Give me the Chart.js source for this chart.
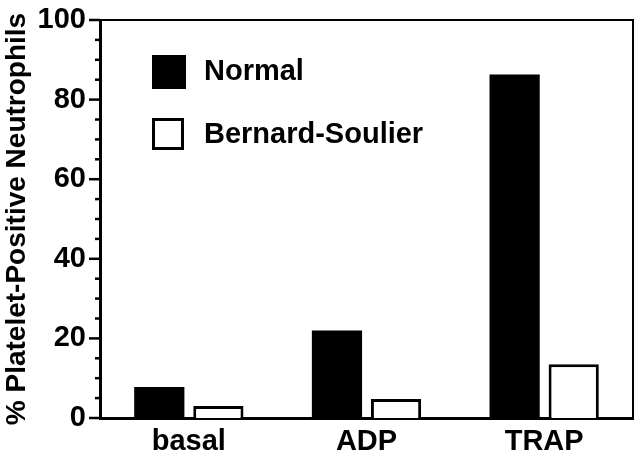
<!DOCTYPE html>
<html>
<head>
<meta charset="utf-8">
<script src="https://cdn.jsdelivr.net/npm/chart.js@4"></script>
<style>
  html, body { margin: 0; padding: 0; background: #fff; }
  #wrap { width: 640px; height: 461px; }
</style>
</head>
<body>
<div id="wrap"><canvas id="grafico" width="640" height="461"></canvas></div>
<script>
// dados
const categorias = ['basal', 'ADP', 'TRAP'];
const normal = [7.8, 22.0, 86.3];
const bernardSoulier = [3.0, 4.8, 13.5];
const yTicks = [0, 20, 40, 60, 80, 100];

const fonte = '"Liberation Sans", Arial, Helvetica, sans-serif';

// moldura (topo e direita), ticks menores e legenda dentro do gráfico
const extras = {
  id: 'extras',
  afterDraw(chart) {
    const ctx = chart.ctx;
    const a = chart.chartArea;
    const y = chart.scales.y;
    ctx.save();
    ctx.strokeStyle = '#000';
    ctx.lineWidth = 2;
    ctx.beginPath();
    ctx.moveTo(a.left, a.top);
    ctx.lineTo(a.right, a.top);
    ctx.lineTo(a.right, a.bottom);
    ctx.stroke();

    // ticks do eixo y: maiores a cada 20, menores a cada 5
    ctx.lineWidth = 2.5;
    for (let v = 0; v <= 100; v += 5) {
      const py = y.getPixelForValue(v);
      const len = v % 20 === 0 ? 11 : 5;
      ctx.beginPath();
      ctx.moveTo(a.left - len, py);
      ctx.lineTo(a.left, py);
      ctx.stroke();
    }

    // legenda
    const itens = chart.data.datasets;
    const x0 = 152, ys = [55, 118], box = 32;
    itens.forEach((ds, i) => {
      const top = ys[i];
      if (ds.backgroundColor === '#000') {
        ctx.fillStyle = '#000';
        ctx.fillRect(x0, top, box + 2, box + 2);
      } else {
        ctx.fillStyle = '#fff';
        ctx.fillRect(x0, top, box, box);
        ctx.lineWidth = 3;
        ctx.strokeRect(x0 + 1.5, top + 1.5, box - 3, box - 3);
      }
      ctx.fillStyle = '#000';
      ctx.font = 'bold 29px ' + fonte;
      ctx.textBaseline = 'middle';
      ctx.fillText(ds.label, 204, top + 17);
    });
    ctx.restore();
  }
};

const ctx = document.getElementById('grafico').getContext('2d');
new Chart(ctx, {
  type: 'bar',
  data: {
    labels: categorias,
    datasets: [
      { label: 'Normal', data: normal, backgroundColor: '#000', borderColor: '#000', borderWidth: 0 },
      { label: 'Bernard-Soulier', data: bernardSoulier, backgroundColor: '#fff', borderColor: '#000', borderWidth: 3 }
    ]
  },
  options: {
    responsive: false,
    animation: false,
    events: [],
    layout: { padding: { top: 20, right: 7, left: 0, bottom: 0 } },
    categoryPercentage: 0.665,
    barPercentage: 0.85,
    plugins: { legend: { display: false }, tooltip: { enabled: false } },
    scales: {
      x: {
        grid: { display: false, drawTicks: false },
        border: { display: true, color: '#000', width: 3 },
        ticks: { color: '#000', padding: 7, font: { family: fonte, size: 29, weight: 'bold' } },
        afterFit(s) { s.height = 43; s.paddingLeft = 0; s.paddingRight = 0; }
      },
      y: {
        min: 0, max: 100,
        afterBuildTicks(s) { s.ticks = yTicks.map(v => ({ value: v })); },
        grid: { display: false, drawTicks: false },
        border: { display: true, color: '#000', width: 3 },
        ticks: { color: '#000', padding: 14, font: { family: fonte, size: 29, weight: 'bold' } },
        title: {
          display: true,
          text: '% Platelet-Positive Neutrophils',
          color: '#000',
          padding: { top: 0, bottom: 0 },
          font: { family: fonte, size: 28, weight: 'bold' }
        },
        afterFit(s) { s.width = 100; s.paddingTop = 0; s.paddingBottom = 0; }
      }
    }
  },
  plugins: [extras]
});
</script>
</body>
</html>
